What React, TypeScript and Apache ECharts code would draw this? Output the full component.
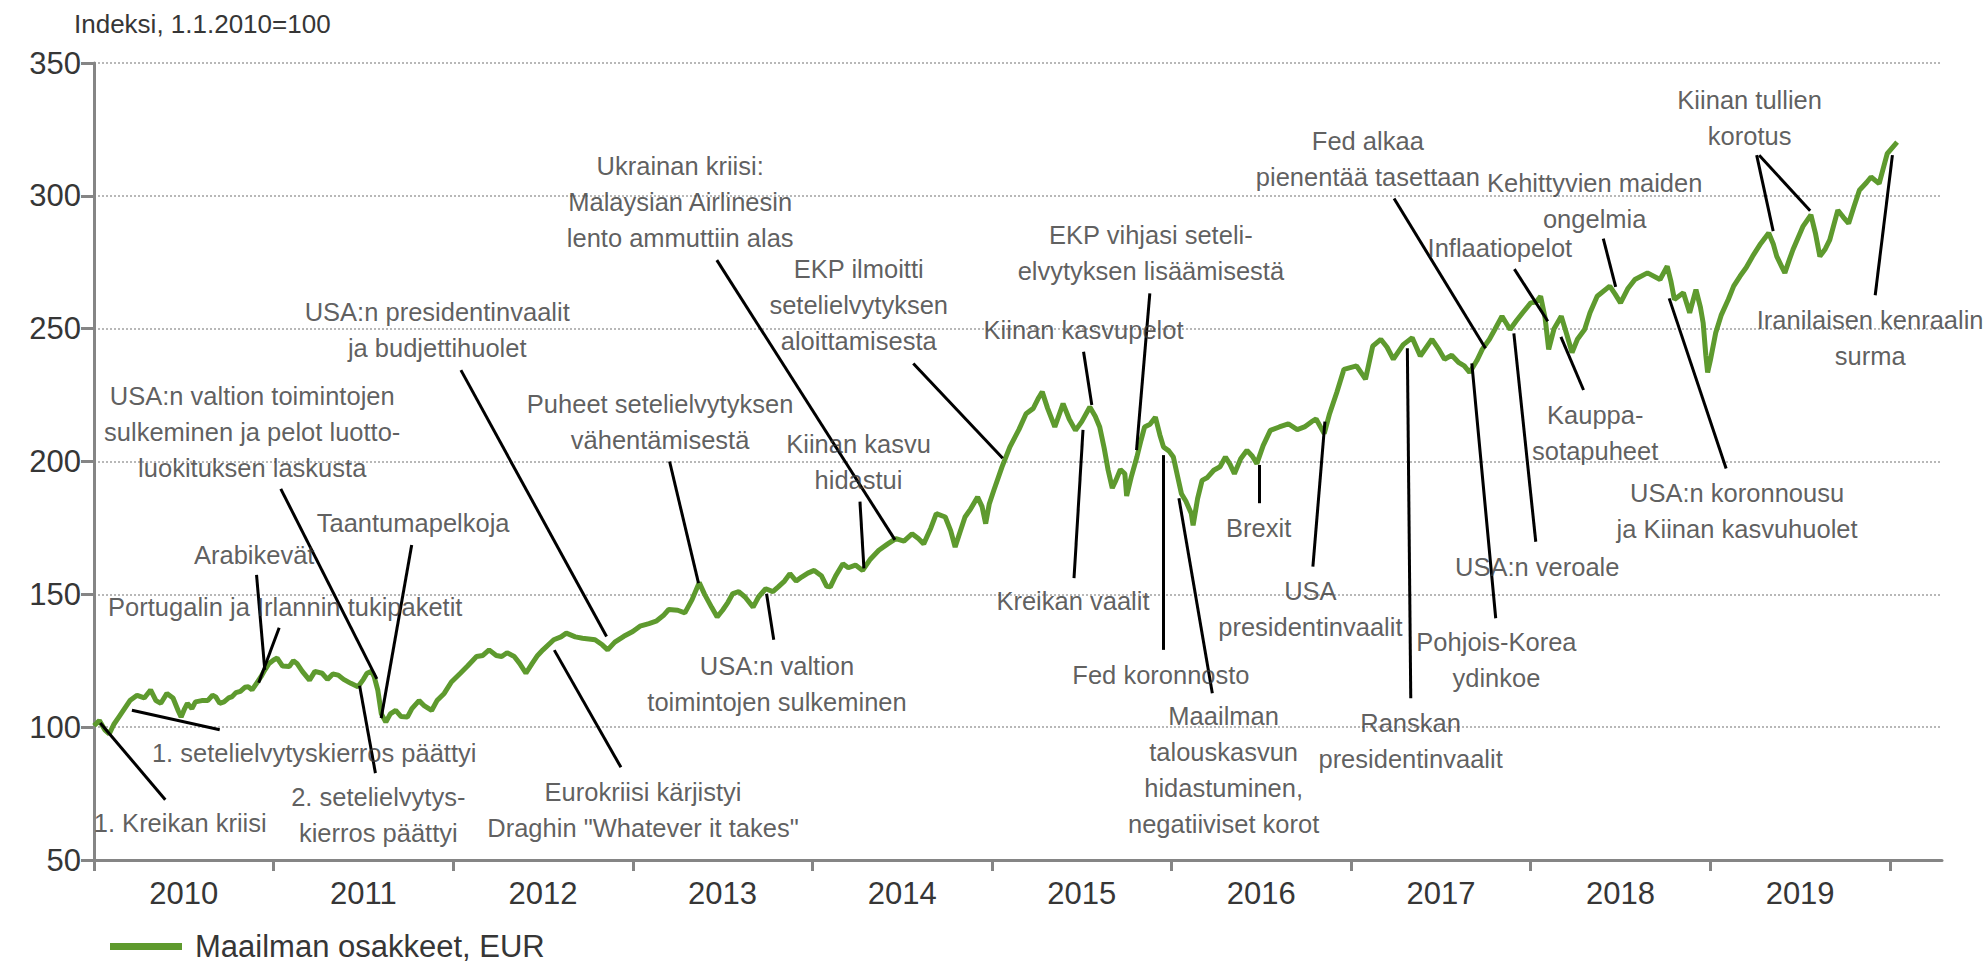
import React, { useEffect, useRef } from "react";
import * as echarts from "echarts";

// ---- Data: world equities in EUR, index 1.1.2010 = 100 (decimal years) ----
const dates = [
  2010.000, 2010.030, 2010.060, 2010.085, 2010.110, 2010.140, 2010.170, 2010.200, 2010.240, 2010.280,
  2010.315, 2010.345, 2010.372, 2010.406, 2010.440, 2010.470, 2010.485, 2010.505, 2010.520, 2010.545,
  2010.565, 2010.600, 2010.633, 2010.660, 2010.678, 2010.700, 2010.724, 2010.750, 2010.769, 2010.790,
  2010.815, 2010.840, 2010.860, 2010.880, 2010.905, 2010.930, 2010.951, 2010.975, 2011.000, 2011.020,
  2011.050, 2011.087, 2011.110, 2011.130, 2011.160, 2011.200, 2011.230, 2011.270, 2011.300, 2011.330,
  2011.360, 2011.390, 2011.430, 2011.470, 2011.500, 2011.520, 2011.545, 2011.560, 2011.580, 2011.600,
  2011.625, 2011.650, 2011.680, 2011.710, 2011.745, 2011.770, 2011.810, 2011.840, 2011.880, 2011.910,
  2011.950, 2011.990, 2012.040, 2012.080, 2012.130, 2012.165, 2012.200, 2012.240, 2012.270, 2012.300,
  2012.340, 2012.370, 2012.405, 2012.440, 2012.470, 2012.500, 2012.560, 2012.600, 2012.630, 2012.680,
  2012.720, 2012.790, 2012.830, 2012.860, 2012.900, 2012.950, 2013.000, 2013.040, 2013.090, 2013.130,
  2013.170, 2013.200, 2013.250, 2013.290, 2013.330, 2013.370, 2013.400, 2013.440, 2013.470, 2013.500,
  2013.530, 2013.557, 2013.590, 2013.625, 2013.670, 2013.700, 2013.740, 2013.780, 2013.810, 2013.845,
  2013.875, 2013.910, 2013.940, 2013.975, 2014.010, 2014.050, 2014.080, 2014.100, 2014.130, 2014.170,
  2014.200, 2014.240, 2014.280, 2014.320, 2014.370, 2014.420, 2014.465, 2014.510, 2014.555, 2014.590,
  2014.620, 2014.660, 2014.690, 2014.740, 2014.770, 2014.795, 2014.820, 2014.850, 2014.880, 2014.920,
  2014.945, 2014.965, 2014.985, 2015.010, 2015.056, 2015.100, 2015.150, 2015.190, 2015.230, 2015.260,
  2015.280, 2015.310, 2015.350, 2015.396, 2015.430, 2015.465, 2015.500, 2015.545, 2015.575, 2015.600,
  2015.625, 2015.647, 2015.670, 2015.690, 2015.715, 2015.740, 2015.750, 2015.775, 2015.807, 2015.830,
  2015.850, 2015.880, 2015.910, 2015.935, 2015.955, 2015.985, 2016.010, 2016.035, 2016.055, 2016.080,
  2016.110, 2016.120, 2016.145, 2016.170, 2016.200, 2016.235, 2016.270, 2016.300, 2016.325, 2016.350,
  2016.385, 2016.420, 2016.450, 2016.475, 2016.510, 2016.550, 2016.600, 2016.650, 2016.700, 2016.740,
  2016.780, 2016.805, 2016.850, 2016.880, 2016.920, 2016.960, 2017.030, 2017.080, 2017.120, 2017.165,
  2017.200, 2017.235, 2017.290, 2017.340, 2017.385, 2017.450, 2017.490, 2017.520, 2017.560, 2017.600,
  2017.630, 2017.660, 2017.700, 2017.730, 2017.770, 2017.800, 2017.840, 2017.885, 2017.920, 2017.955,
  2018.000, 2018.030, 2018.055, 2018.080, 2018.100, 2018.130, 2018.170, 2018.200, 2018.230, 2018.260,
  2018.300, 2018.330, 2018.370, 2018.440, 2018.470, 2018.500, 2018.540, 2018.580, 2018.650, 2018.720,
  2018.760, 2018.780, 2018.800, 2018.850, 2018.885, 2018.920, 2018.945, 2018.960, 2018.975, 2018.985,
  2019.000, 2019.030, 2019.060, 2019.100, 2019.130, 2019.165, 2019.200, 2019.235, 2019.280, 2019.325,
  2019.350, 2019.370, 2019.400, 2019.415, 2019.440, 2019.460, 2019.515, 2019.560, 2019.585, 2019.610,
  2019.640, 2019.665, 2019.710, 2019.740, 2019.770, 2019.800, 2019.830, 2019.870, 2019.895, 2019.940,
  2019.985, 2020.040,
];

const indexValues = [
  100.5, 102.5, 99.0, 97.5, 101.0, 104.0, 107.0, 110.0, 112.0, 111.0,
  114.0, 110.0, 109.0, 112.7, 111.0, 106.0, 103.8, 107.0, 109.0, 107.0,
  109.5, 110.0, 110.0, 112.0, 111.4, 109.0, 109.5, 111.0, 111.5, 113.0,
  113.5, 115.0, 115.2, 114.0, 116.5, 119.0, 121.5, 124.0, 125.3, 126.0,
  123.0, 122.8, 125.0, 124.0, 121.0, 117.7, 121.0, 120.3, 118.0, 120.0,
  119.6, 118.0, 116.5, 115.2, 118.0, 120.3, 121.0, 119.0, 114.0, 105.0,
  101.9, 105.0, 106.3, 104.0, 103.8, 107.0, 110.0, 108.0, 106.3, 110.0,
  112.7, 117.0, 120.3, 123.0, 126.6, 127.0, 129.1, 127.0, 126.6, 128.0,
  126.6, 124.0, 120.3, 124.0, 127.0, 129.1, 132.9, 134.0, 135.4, 134.0,
  133.5, 132.9, 131.0, 129.1, 132.0, 134.2, 136.0, 138.0, 139.0, 139.9,
  142.0, 144.3, 144.0, 143.0, 148.0, 154.4, 150.0, 145.0, 141.5, 144.0,
  147.0, 150.3, 151.0, 149.0, 145.2, 149.0, 152.1, 151.0, 152.8, 155.0,
  157.8, 155.0, 156.5, 158.0, 159.0, 157.0, 153.0, 152.8, 157.0, 161.5,
  160.0, 161.0, 159.0, 163.0, 166.6, 169.0, 171.0, 170.0, 172.8, 171.0,
  169.0, 175.0, 180.4, 179.1, 174.0, 167.8, 173.0, 179.1, 182.0, 186.6,
  183.0, 176.6, 184.0, 189.1, 198.0, 205.5, 212.0, 218.0, 220.0, 224.0,
  226.2, 220.0, 213.0, 221.8, 216.0, 211.7, 215.0, 220.5, 217.0, 213.0,
  205.0, 196.7, 190.0, 192.9, 197.0, 195.4, 187.0, 194.0, 201.7, 208.0,
  213.0, 214.0, 216.7, 210.0, 205.5, 204.0, 201.7, 194.0, 187.9, 185.0,
  180.4, 176.0, 186.0, 192.9, 194.0, 196.7, 198.0, 201.7, 199.0, 195.4,
  201.0, 204.2, 202.0, 199.2, 206.0, 211.7, 213.0, 214.2, 212.0, 213.0,
  215.0, 216.0, 210.5, 218.0, 226.0, 234.7, 236.0, 231.0, 243.4, 246.0,
  243.0, 238.5, 244.0, 246.6, 239.7, 246.0, 242.0, 238.5, 240.0, 237.2,
  236.0, 233.5, 238.0, 242.2, 246.0, 249.7, 254.7, 249.7, 253.0, 256.0,
  259.7, 260.0, 262.2, 254.0, 242.2, 250.0, 254.7, 248.0, 241.0, 246.0,
  249.7, 256.0, 262.2, 266.0, 263.0, 259.7, 265.0, 268.5, 271.0, 268.5,
  273.5, 268.0, 261.0, 263.5, 256.0, 264.7, 258.0, 252.2, 240.0, 233.5,
  238.0, 248.5, 255.0, 261.0, 266.0, 269.7, 273.0, 277.2, 282.0, 286.0,
  282.0, 277.2, 273.0, 271.0, 276.0, 279.7, 288.4, 292.8, 286.0, 277.2,
  280.0, 283.4, 294.6, 292.0, 289.6, 296.0, 302.1, 305.0, 307.1, 304.6,
  315.9, 320.2,
];

const seriesName = "Maailman osakkeet, EUR";
const axisTitle = "Indeksi, 1.1.2010=100";
const yearTicks = [2010, 2011, 2012, 2013, 2014, 2015, 2016, 2017, 2018, 2019, 2020];
const yearLabelPositions = [2010.5, 2011.5, 2012.5, 2013.5, 2014.5, 2015.5, 2016.5, 2017.5, 2018.5, 2019.5];

// ---- Annotations (label anchor and leader lines, in data coordinates) ----
const annotationTexts = [
  "1. Kreikan kriisi",
  "1. setelielvytyskierros päättyi",
  "2. setelielvytys-\nkierros päättyi",
  "Portugalin ja Irlannin tukipaketit",
  "Arabikevät",
  "USA:n valtion toimintojen\nsulkeminen ja pelot luotto-\nluokituksen laskusta",
  "Taantumapelkoja",
  "USA:n presidentinvaalit\nja budjettihuolet",
  "Eurokriisi kärjistyi\nDraghin \"Whatever it takes\"",
  "Puheet setelielvytyksen\nvähentämisestä",
  "USA:n valtion\ntoimintojen sulkeminen",
  "Kiinan kasvu\nhidastui",
  "Ukrainan kriisi:\nMalaysian Airlinesin\nlento ammuttiin alas",
  "EKP ilmoitti\nsetelielvytyksen\naloittamisesta",
  "Kiinan kasvupelot",
  "EKP vihjasi seteli-\nelvytyksen lisäämisestä",
  "Kreikan vaalit",
  "Fed koronnosto",
  "Maailman\ntalouskasvun\nhidastuminen,\nnegatiiviset korot",
  "Brexit",
  "USA\npresidentinvaalit",
  "Ranskan\npresidentinvaalit",
  "Pohjois-Korea\nydinkoe",
  "USA:n veroale",
  "Fed alkaa\npienentää tasettaan",
  "Kehittyvien maiden\nongelmia",
  "Inflaatiopelot",
  "Kauppa-\nsotapuheet",
  "USA:n koronnousu\nja Kiinan kasvuhuolet",
  "Kiinan tullien\nkorotus",
  "Iranilaisen kenraalin\nsurma",
];

const annotationAnchors = [
  [2010.48, 64.0], [2011.226, 90.4], [2011.583, 67.0], [2011.065, 145.3], [2010.892, 164.8],
  [2010.881, 211.2], [2011.777, 177.0], [2011.911, 249.5], [2013.057, 68.9], [2013.152, 215.0],
  [2013.803, 116.3], [2014.257, 199.9], [2013.264, 297.7], [2014.258, 258.9], [2015.51, 249.5],
  [2015.885, 278.3], [2015.451, 147.6], [2015.941, 119.7], [2016.29, 83.7], [2016.485, 174.9],
  [2016.773, 144.5], [2017.331, 94.9], [2017.809, 125.3], [2018.036, 160.4], [2017.093, 314.0],
  [2018.356, 298.2], [2017.828, 280.2], [2018.359, 210.9], [2019.149, 181.5], [2019.219, 329.4],
  [2019.89, 246.3],
];

const leaderLines = [
  [[2010.035, 101.6], [2010.397, 72.7]],
  [[2010.211, 106.4], [2010.7, 99.0]],
  [[2011.479, 115.6], [2011.567, 82.7]],
  [[2011.031, 137.4], [2010.917, 116.7]],
  [[2010.905, 157.3], [2010.951, 121.6]],
  [[2011.04, 189.7], [2011.575, 118.2]],
  [[2011.769, 168.6], [2011.599, 103.4]],
  [[2012.043, 234.4], [2012.854, 134.1]],
  [[2012.563, 129.0], [2012.934, 84.9]],
  [[2013.205, 200.0], [2013.366, 154.2]],
  [[2013.745, 150.2], [2013.785, 132.9]],
  [[2014.265, 184.9], [2014.287, 159.8]],
  [[2013.468, 275.8], [2014.46, 170.5]],
  [[2014.562, 236.9], [2015.06, 201.2]],
  [[2015.51, 241.3], [2015.556, 221.3]],
  [[2015.879, 263.3], [2015.805, 204.3]],
  [[2015.507, 211.9], [2015.457, 156.1]],
  [[2015.954, 202.4], [2015.954, 129.1]],
  [[2016.041, 186.2], [2016.227, 112.8]],
  [[2016.488, 198.7], [2016.488, 184.3]],
  [[2016.854, 215.0], [2016.787, 160.4]],
  [[2017.313, 242.6], [2017.332, 110.9]],
  [[2017.672, 236.9], [2017.805, 141.0]],
  [[2017.906, 248.2], [2018.028, 169.8]],
  [[2017.239, 299.0], [2017.748, 242.6]],
  [[2018.404, 283.9], [2018.473, 265.7]],
  [[2017.909, 272.4], [2018.095, 252.8]],
  [[2018.168, 246.9], [2018.294, 226.9]],
  [[2018.771, 261.4], [2019.088, 197.4]],
  [[2019.258, 315.3], [2019.35, 286.7]],
  [[2019.272, 315.3], [2019.556, 294.4]],
  [[2019.918, 262.6], [2020.014, 315.3]],
];

const FONT = '"Liberation Sans", Arial, Helvetica, sans-serif';
const TEXT = "#363636";
const GREEN = "#5e9a2e";
const AXIS = "#858585";

export default function App() {
  const ref = useRef<HTMLDivElement>(null);

  useEffect(() => {
    if (!ref.current) return;
    const chart = echarts.init(ref.current, null, { renderer: "svg" });
    chart.setOption({
      animation: false,
      backgroundColor: "#ffffff",
      textStyle: { fontFamily: FONT },
      title: {
        text: axisTitle,
        left: 74,
        top: 11,
        padding: 0,
        textStyle: { fontSize: 26, fontWeight: "normal", color: TEXT, fontFamily: FONT },
      },
      legend: {
        data: [seriesName],
        left: 110,
        top: 931,
        padding: 0,
        icon: "rect",
        itemWidth: 72,
        itemHeight: 7,
        textStyle: { fontSize: 31, color: TEXT, fontFamily: FONT, padding: [0, 0, 0, 8] },
      },
      grid: { left: 94, right: 46, top: 63, bottom: 103, containLabel: false },
      xAxis: {
        type: "value",
        min: 2010,
        max: 2020.29,
        axisLine: { show: true, onZero: false, lineStyle: { color: AXIS, width: 3 } },
        axisTick: {
          show: true,
          customValues: yearTicks,
          length: 11,
          lineStyle: { color: AXIS, width: 3 },
        },
        axisLabel: {
          customValues: yearLabelPositions,
          formatter: (v: number) => String(Math.floor(v)),
          fontSize: 31,
          color: TEXT,
          fontFamily: FONT,
          margin: 18,
        },
        splitLine: { show: false },
      },
      yAxis: {
        type: "value",
        min: 50,
        max: 350,
        interval: 50,
        axisLine: { show: true, lineStyle: { color: AXIS, width: 3 } },
        axisTick: { show: true, length: 13, lineStyle: { color: AXIS, width: 3 } },
        axisLabel: { fontSize: 31, color: TEXT, fontFamily: FONT, margin: 13 },
        splitLine: { show: true, lineStyle: { color: "#b8b8b8", width: 2, type: [2, 2] } },
      },
      series: [
        {
          name: seriesName,
          type: "line",
          data: dates.map((d, i) => [d, indexValues[i]]),
          showSymbol: false,
          symbol: "none",
          lineStyle: { color: GREEN, width: 5 },
          itemStyle: { color: GREEN },
          z: 2,
        },
        {
          name: "leaders",
          type: "lines",
          coordinateSystem: "cartesian2d",
          data: leaderLines.map((c) => ({ coords: c })),
          lineStyle: { color: "#000000", width: 3, opacity: 1, curveness: 0 },
          silent: true,
          z: 3,
        },
        {
          name: "notes",
          type: "scatter",
          data: annotationTexts.map((t, i) => ({ name: t, value: annotationAnchors[i] })),
          symbolSize: 0,
          silent: true,
          z: 4,
          label: {
            show: true,
            position: "inside",
            formatter: "{b}",
            fontSize: 25.5,
            lineHeight: 36,
            align: "center",
            verticalAlign: "middle",
            color: TEXT,
            fontFamily: FONT,
          },
        },
      ],
    });
    return () => chart.dispose();
  }, []);

  return (
    <div
      ref={ref}
      style={{ position: "fixed", left: 0, top: 0, width: 1988, height: 963, background: "#fff" }}
    />
  );
}
